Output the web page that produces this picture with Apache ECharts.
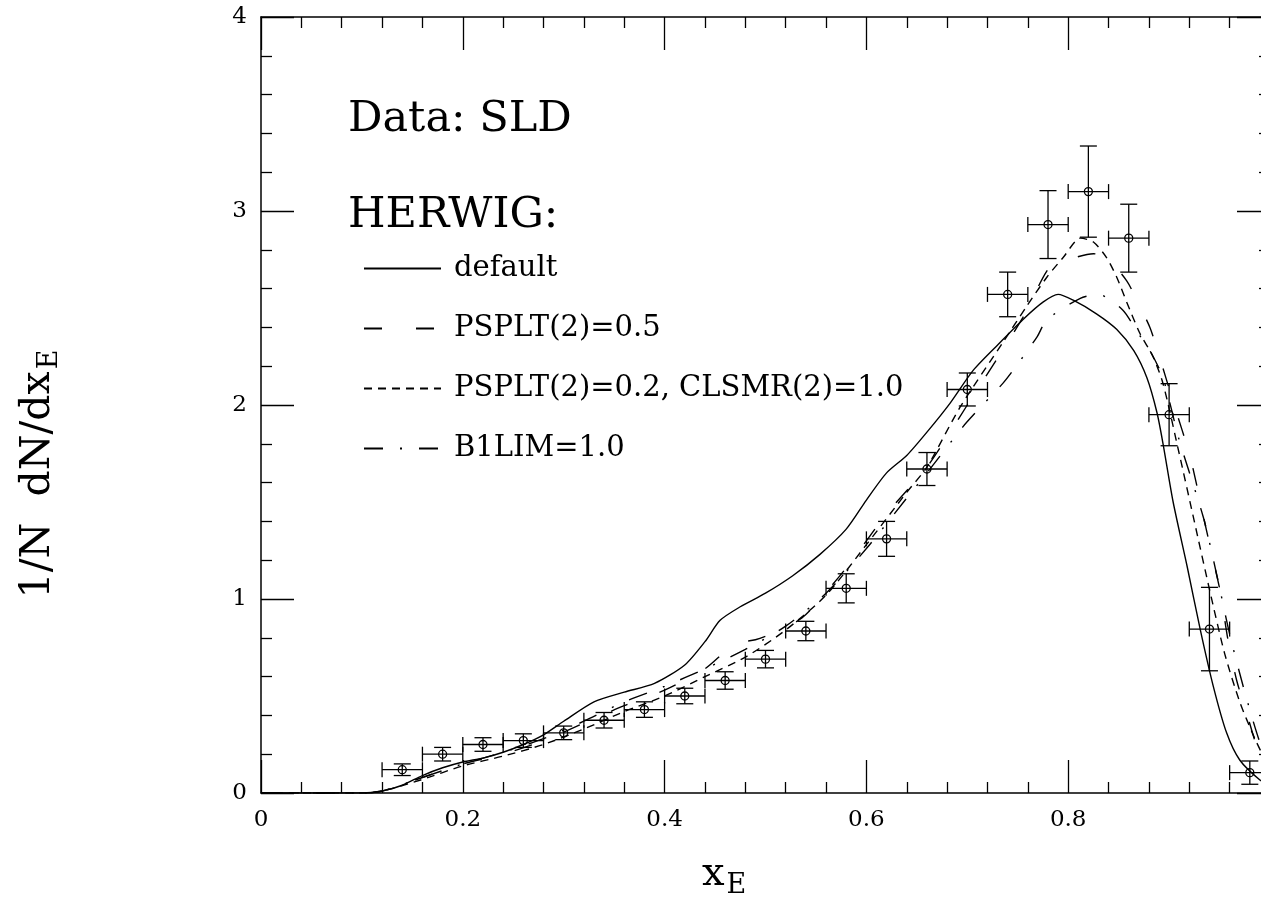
<!DOCTYPE html>
<html>
<head>
<meta charset="utf-8">
<script src="https://cdn.jsdelivr.net/npm/echarts@6/dist/echarts.min.js"></script>
<style>
  html, body { margin: 0; padding: 0; background: #fff; overflow: hidden; }
  /* frame runs past the right edge of the window, x=1 sits just off-screen */
  #main { width: 1270px; height: 901px; }
</style>
</head>
<body>
<div id="main"></div>
<script>
// SLD data: bin centres, values, vertical errors
var binCenters = [0.14, 0.18, 0.22, 0.26, 0.30, 0.34, 0.38, 0.42, 0.46, 0.50, 0.54,
                  0.58, 0.62, 0.66, 0.70, 0.74, 0.78, 0.82, 0.86, 0.90, 0.94, 0.98];
var sldValues = [0.12, 0.20, 0.25, 0.27, 0.31, 0.375, 0.43, 0.50, 0.58, 0.69, 0.835,
                 1.055, 1.31, 1.67, 2.08, 2.57, 2.93, 3.10, 2.86, 1.95, 0.845, 0.105];
var sldErrors = [0.03, 0.035, 0.035, 0.035, 0.035, 0.04, 0.04, 0.04, 0.045, 0.045, 0.05,
                 0.075, 0.09, 0.085, 0.085, 0.115, 0.175, 0.235, 0.175, 0.16, 0.215, 0.06];
var binHalfWidth = 0.02;

// HERWIG curves [xE, value]
var herwigDefault = [[0,0],[0.10,0],[0.12,0.01],[0.14,0.04],[0.16,0.09],[0.18,0.13],[0.20,0.16],
  [0.22,0.18],[0.24,0.21],[0.26,0.25],[0.28,0.30],[0.30,0.37],[0.33,0.47],[0.36,0.52],[0.39,0.565],
  [0.42,0.66],[0.44,0.78],[0.455,0.89],[0.475,0.96],[0.50,1.03],[0.527,1.12],[0.554,1.23],[0.58,1.36],
  [0.60,1.51],[0.62,1.65],[0.64,1.74],[0.66,1.86],[0.683,2.01],[0.706,2.18],[0.732,2.32],[0.755,2.44],
  [0.775,2.53],[0.79,2.57],[0.805,2.54],[0.828,2.47],[0.848,2.39],[0.865,2.28],[0.878,2.14],[0.888,1.96],
  [0.894,1.80],[0.904,1.50],[0.918,1.165],[0.931,0.84],[0.944,0.546],[0.957,0.31],[0.97,0.17],
  [0.99,0.067],[1.0,0.04]];
var herwigPsplt05 = [[0,0],[0.10,0],[0.12,0.01],[0.16,0.08],[0.20,0.15],[0.24,0.20],[0.28,0.27],
  [0.32,0.36],[0.36,0.45],[0.40,0.53],[0.44,0.64],[0.47,0.77],[0.49,0.79],[0.52,0.85],[0.54,0.92],
  [0.58,1.16],[0.62,1.44],[0.66,1.68],[0.70,2.00],[0.755,2.45],[0.78,2.70],[0.795,2.74],[0.825,2.78],
  [0.838,2.76],[0.858,2.64],[0.869,2.53],[0.881,2.40],[0.888,2.29],[0.905,2.00],[0.921,1.73],
  [0.937,1.355],[0.951,1.03],[0.958,0.80],[0.967,0.58],[0.977,0.41],[0.987,0.24],[1.0,0.10]];
var herwigPsplt02 = [[0,0],[0.10,0],[0.12,0.01],[0.16,0.07],[0.20,0.14],[0.24,0.19],[0.28,0.25],
  [0.32,0.33],[0.36,0.42],[0.40,0.50],[0.44,0.60],[0.48,0.70],[0.52,0.84],[0.56,1.02],[0.60,1.28],
  [0.64,1.55],[0.66,1.68],[0.693,1.99],[0.735,2.32],[0.759,2.51],[0.779,2.66],[0.795,2.76],[0.812,2.86],
  [0.825,2.84],[0.838,2.76],[0.848,2.66],[0.858,2.53],[0.871,2.37],[0.884,2.25],[0.894,2.11],[0.91,1.75],
  [0.925,1.40],[0.94,1.05],[0.955,0.72],[0.97,0.47],[0.985,0.28],[1.0,0.12]];
var herwigB1lim = [[0,0],[0.10,0],[0.12,0.01],[0.16,0.08],[0.20,0.15],[0.24,0.21],[0.28,0.28],
  [0.32,0.37],[0.36,0.47],[0.40,0.55],[0.44,0.64],[0.48,0.74],[0.52,0.86],[0.56,1.03],[0.60,1.26],
  [0.64,1.52],[0.66,1.65],[0.696,1.89],[0.708,1.96],[0.735,2.11],[0.747,2.19],[0.769,2.35],[0.779,2.44],
  [0.812,2.55],[0.83,2.57],[0.854,2.49],[0.868,2.38],[0.881,2.28],[0.894,2.14],[0.91,1.82],[0.934,1.42],
  [0.947,1.13],[0.96,0.82],[0.975,0.52],[0.99,0.26],[1.0,0.15]];

var curveNames = ['default', 'PSPLT(2)=0.5', 'PSPLT(2)=0.2, CLSMR(2)=1.0', 'B1LIM=1.0'];
var xTicks = [0, 0.2, 0.4, 0.6, 0.8];

var FONT = 'DejaVu Serif';
var myChart = echarts.init(document.getElementById('main'));

var sldData = binCenters.map(function (x, i) { return [x, sldValues[i], sldErrors[i]]; });

function renderPoint(params, api) {
    var x = api.value(0), y = api.value(1), e = api.value(2);
    var c = api.coord([x, y]);
    var l = api.coord([x - binHalfWidth, y]);
    var r = api.coord([x + binHalfWidth, y]);
    var t = api.coord([x, y + e]);
    var b = api.coord([x, y - e]);
    var st = { stroke: '#000', lineWidth: 1.3, fill: null };
    var cw = 8.5, ch = 7.5;
    return {
        type: 'group',
        children: [
            { type: 'line', shape: { x1: l[0], y1: c[1], x2: r[0], y2: c[1] }, style: st },
            { type: 'line', shape: { x1: c[0], y1: t[1], x2: c[0], y2: b[1] }, style: st },
            { type: 'line', shape: { x1: c[0] - cw, y1: t[1], x2: c[0] + cw, y2: t[1] }, style: st },
            { type: 'line', shape: { x1: c[0] - cw, y1: b[1], x2: c[0] + cw, y2: b[1] }, style: st },
            { type: 'line', shape: { x1: l[0], y1: c[1] - ch, x2: l[0], y2: c[1] + ch }, style: st },
            { type: 'line', shape: { x1: r[0], y1: c[1] - ch, x2: r[0], y2: c[1] + ch }, style: st },
            { type: 'circle', shape: { cx: c[0], cy: c[1], r: 4 }, style: st }
        ]
    };
}

function axisCommon(showLabel) {
    return {
        axisLine: { show: true, onZero: false, lineStyle: { color: '#000', width: 1.5 } },
        axisTick: { show: true, inside: true, length: 33, lineStyle: { color: '#000', width: 1.3 } },
        minorTick: { show: true, splitNumber: 5, length: 11, lineStyle: { color: '#000', width: 1.3 } },
        splitLine: { show: false },
        axisLabel: { show: showLabel }
    };
}

var xBottom = Object.assign(axisCommon(true), { type: 'value', position: 'bottom', min: 0, max: 1, interval: 0.2 });
xBottom.axisLabel = {
    show: true, margin: 16, fontFamily: FONT, fontSize: 23, color: '#000',
    formatter: function (v) { return xTicks.indexOf(Math.round(v * 10) / 10) >= 0 ? String(Math.round(v * 10) / 10) : ''; }
};
var xTop = Object.assign(axisCommon(false), { type: 'value', position: 'top', min: 0, max: 1, interval: 0.2 });
var yLeft = Object.assign(axisCommon(true), { type: 'value', position: 'left', min: 0, max: 4, interval: 1 });
yLeft.axisLabel = { show: true, margin: 14, fontFamily: FONT, fontSize: 23, color: '#000' };
var yRight = Object.assign(axisCommon(false), { type: 'value', position: 'right', min: 0, max: 4, interval: 1 });

function curve(name, data, dash) {
    return {
        name: name, type: 'line', data: data, xAxisIndex: 0, yAxisIndex: 0,
        symbol: 'none', smooth: 0.25, silent: true, animation: false,
        lineStyle: { color: '#000', width: 1.4, type: dash },
        itemStyle: { color: '#000' },
        z: 3
    };
}

var option = {
    backgroundColor: '#fff',
    animation: false,
    grid: { left: 261, right: 0, top: 17, bottom: 108, containLabel: false, outerBoundsMode: 'none' },
    xAxis: [xBottom, xTop],
    yAxis: [yLeft, yRight],
    legend: {
        data: curveNames,
        orient: 'vertical',
        left: 363, top: 254, padding: 0,
        itemWidth: 77, itemHeight: 14, itemGap: 31,
        selectedMode: false,
        itemStyle: { opacity: 0 },
        textStyle: { fontFamily: FONT, fontSize: 29, color: '#000', padding: [0, 0, 0, 8] }
    },
    graphic: [
        { type: 'text', left: 348, top: 98, style: { text: 'Data: SLD', font: '43px "DejaVu Serif"', fill: '#000' } },
        { type: 'text', left: 348, top: 194, style: { text: 'HERWIG:', font: '43px "DejaVu Serif"', fill: '#000' } },
        { type: 'text', x: 702, y: 850, style: {
            text: '{a|x}{b|E}', fill: '#000',
            rich: { a: { fontFamily: FONT, fontSize: 40, color: '#000' },
                    b: { fontFamily: FONT, fontSize: 27, color: '#000', padding: [22, 0, 0, 2] } } } },
        { type: 'text', x: 38, y: 474, rotation: Math.PI / 2, style: {
            text: '{a|1/N  dN/dx}{b|E}', fill: '#000', align: 'center', verticalAlign: 'middle',
            rich: { a: { fontFamily: FONT, fontSize: 41, color: '#000' },
                    b: { fontFamily: FONT, fontSize: 27, color: '#000', padding: [24, 0, 0, 2] } } } }
    ],
    series: [
        curve(curveNames[0], herwigDefault, 'solid'),
        curve(curveNames[1], herwigPsplt05, [18, 34]),
        curve(curveNames[2], herwigPsplt02, [8, 6]),
        curve(curveNames[3], herwigB1lim, [19, 17, 2, 17]),
        {
            name: 'SLD', type: 'custom', data: sldData, renderItem: renderPoint,
            encode: { x: 0, y: 1 }, silent: true, z: 4, clip: false
        }
    ]
};

myChart.setOption(option);
</script>
</body>
</html>
